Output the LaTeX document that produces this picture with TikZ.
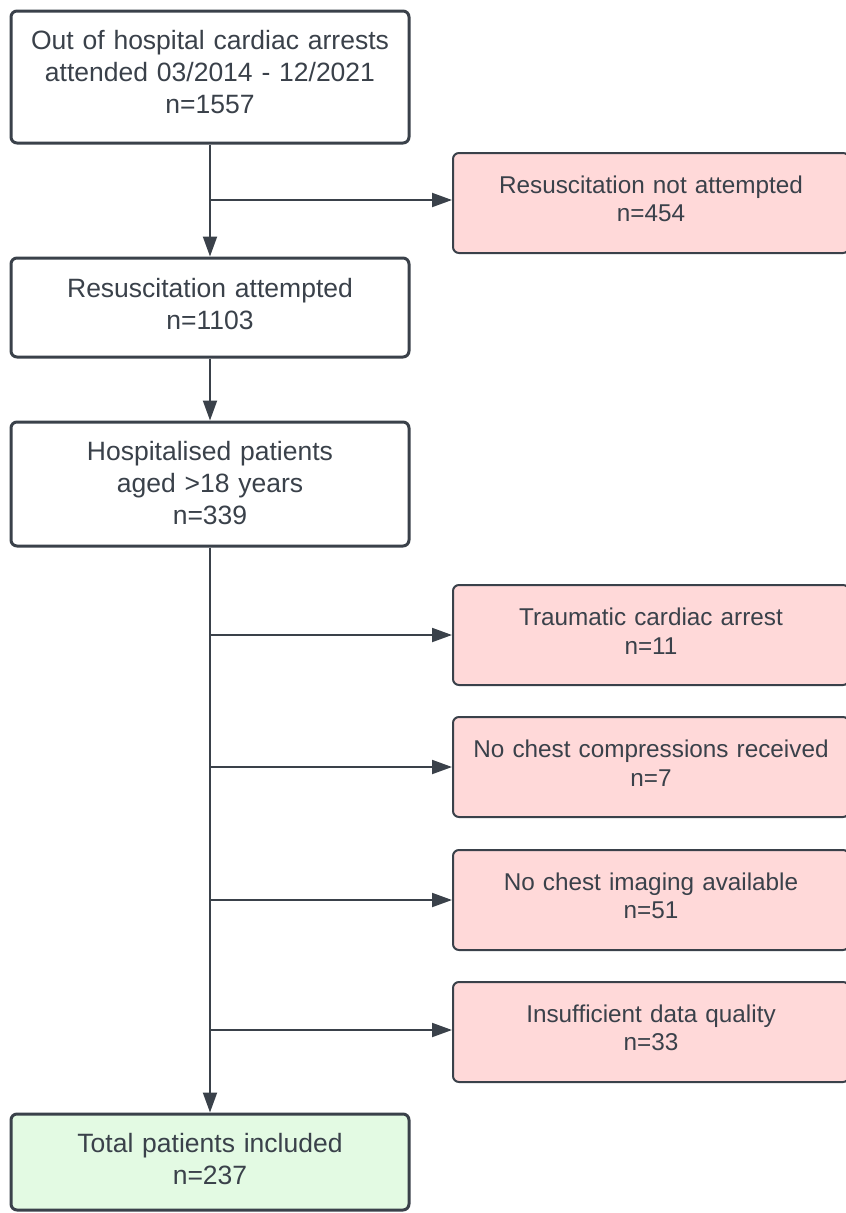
\documentclass[tikz,border=0pt]{standalone}
\usepackage{fontspec}
\setmainfont{Liberation Sans}
\usetikzlibrary{arrows.meta}
\definecolor{dark}{HTML}{3A414A}
\definecolor{redfill}{HTML}{FFD9D9}
\definecolor{greenfill}{HTML}{E3FAE3}
\begin{document}
\begin{tikzpicture}[x=1pt,y=-1pt,
  mainbox/.style={draw=dark, line width=3pt, rounded corners=6pt, fill=white,
    minimum width=398pt, text width=392pt, align=center, inner sep=0pt,
    execute at end node={\vspace{#1}},
    font=\fontsize{26.5}{32}\selectfont, text=dark},
  mainbox/.default=10pt,
  exbox/.style={draw=dark, line width=2pt, rounded corners=6pt, fill=redfill,
    minimum width=396pt, minimum height=100pt, text width=392pt, align=center, inner sep=0pt,
    execute at end node={\vspace{8pt}},
    font=\fontsize{24.3}{28.5}\selectfont, text=dark},
  arr/.style={draw=dark, line width=2pt, -{Triangle[length=20pt,width=14pt]}},
  conn/.style={draw=dark, line width=2pt}]
\useasboundingbox (0,0) rectangle (846,1213);
\clip (0,0) rectangle (846,1213);

\node[mainbox, minimum height=132pt] (n1) at (210,77) {Out of hospital cardiac arrests\\attended 03/2014 - 12/2021\\n=1557};
\node[mainbox=6pt, minimum height=99pt] (n2) at (210,307.5) {Resuscitation attempted\\n=1103};
\node[mainbox=2pt, minimum height=124pt] (n3) at (210,484) {Hospitalised patients\\aged >18 years\\n=339};
\node[mainbox=5pt, minimum height=96pt, fill=greenfill] (n4) at (210,1162) {Total patients included\\n=237};

\node[exbox] (r1) at (651,203) {Resuscitation not attempted\\n=454};
\node[exbox] (r2) at (651,635) {Traumatic cardiac arrest\\n=11};
\node[exbox] (r3) at (651,767) {No chest compressions received\\n=7};
\node[exbox] (r4) at (651,900) {No chest imaging available\\n=51};
\node[exbox] (r5) at (651,1032) {Insufficient data quality\\n=33};

\coordinate (c1) at (210,200);
\coordinate (c2) at (210,635);
\coordinate (c3) at (210,767);
\coordinate (c4) at (210,900);
\coordinate (c5) at (210,1030);

\draw[arr] (n1.south) -- (n2.north);
\draw[arr] (n2.south) -- (n3.north);
\draw[arr] (n3.south) -- (n4.north);
\draw[arr] (c1) -- (c1 -| r1.west);
\draw[arr] (c2) -- (c2 -| r2.west);
\draw[arr] (c3) -- (c3 -| r3.west);
\draw[arr] (c4) -- (c4 -| r4.west);
\draw[arr] (c5) -- (c5 -| r5.west);
\end{tikzpicture}
\end{document}
